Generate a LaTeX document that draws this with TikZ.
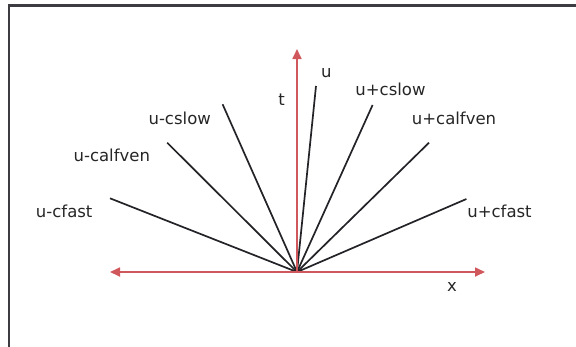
\documentclass[tikz,border=0pt]{standalone}
\usepackage{fontspec}
\setmainfont{DejaVu Sans}
\usetikzlibrary{arrows.meta}
\definecolor{axisred}{RGB}{208,88,92}
\definecolor{raycol}{RGB}{35,35,40}
\definecolor{framecol}{RGB}{60,60,65}
\begin{document}
\begin{tikzpicture}[x=1pt,y=-1pt,
  lbl/.style={font=\fontsize{16.5}{18}\selectfont,text=black!85,inner sep=0pt},
  ray/.style={draw=raycol,line width=1.7pt},
  axis/.style={draw=axisred,line width=1.7pt,-{Triangle[length=10pt,width=9pt]}}]
\useasboundingbox (0,0) rectangle (576,346);
\draw[framecol,line width=2.2pt] (9,350) -- (9,5.5) -- (580,5.5);
\coordinate (o) at (297,272);
\coordinate (tt) at (297,49);
\coordinate (xr) at (485,272);
\coordinate (xl) at (110,272);
\coordinate (eu) at (316,86);
\coordinate (ecsp) at (372.6,105);
\coordinate (ecap) at (429,142.7);
\coordinate (ecfp) at (466.4,199);
\coordinate (ecsm) at (222.6,104.3);
\coordinate (ecam) at (167.2,142.7);
\coordinate (ecfm) at (110,198.3);
\draw[ray] (o) -- (eu);
\draw[ray] (o) -- (ecsp);
\draw[ray] (o) -- (ecap);
\draw[ray] (o) -- (ecfp);
\draw[ray] (o) -- (ecsm);
\draw[ray] (o) -- (ecam);
\draw[ray] (o) -- (ecfm);
\draw[axis] (o) -- (tt);
\draw[axis] (o) -- (xr);
\draw[axis] (o) -- (xl);
\node[lbl] (lu) at (326.4,73.3) {u};
\node[lbl] (lt) at (281.6,99.3) {t};
\node[lbl] (lx) at (452,287) {x};
\node[lbl] (lcsp) at (390.5,89.3) {u+cslow};
\node[lbl] (lcap) at (454,118.3) {u+calfven};
\node[lbl] (lcfp) at (499.5,211.7) {u+cfast};
\node[lbl] (lcsm) at (179.7,118.3) {u-cslow};
\node[lbl] (lcam) at (111.8,155.7) {u-calfven};
\node[lbl] (lcfm) at (64.2,211.7) {u-cfast};
\end{tikzpicture}
\end{document}
